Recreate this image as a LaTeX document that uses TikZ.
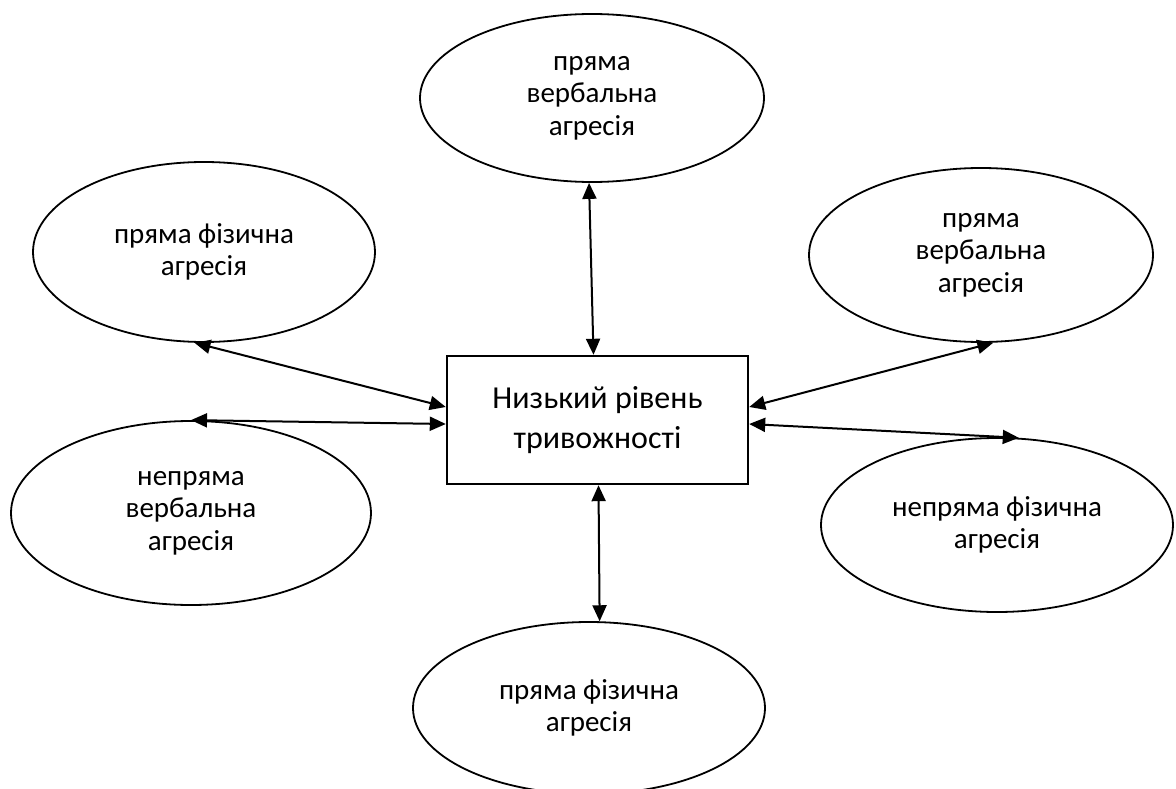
\documentclass[tikz,border=0pt]{standalone}
\usepackage{fontspec}
\setmainfont{Carlito}
\usetikzlibrary{shapes.geometric,arrows.meta}
\begin{document}
\begin{tikzpicture}[x=1pt,y=-1pt,
		oval/.style={ellipse,draw,line width=1.8pt,inner sep=0pt,align=center,font=\fontsize{29}{32.5}\selectfont},
		box/.style={rectangle,draw,line width=2.4pt,minimum width=301pt,minimum height=128pt,align=center,font=\fontsize{32}{40}\selectfont},
		link/.style={<->,>={Triangle[length=16pt,width=14pt]},line width=2pt}]
		\useasboundingbox (0,0) rectangle (1176,789);
		\node[box] (level) at (597.5,420) {Низький рівень\\тривожності};
		\node[oval,minimum width=344pt,minimum height=168pt] (pvTop) at (592,98) {пряма\\вербальна\\агресія};
		\node[oval,minimum width=342pt,minimum height=180pt] (pfLeft) at (204,252) {пряма фізична\\агресія};
		\node[oval,minimum width=344pt,minimum height=174pt] (pvRight) at (981,255) {пряма\\вербальна\\агресія};
		\node[oval,minimum width=360pt,minimum height=184pt] (nvLeft) at (191,513) {непряма\\вербальна\\агресія};
		\node[oval,minimum width=352pt,minimum height=174pt] (nfRight) at (997,525) {непряма фізична\\агресія};
		\node[oval,minimum width=352pt,minimum height=172pt] (pfBottom) at (589,708) {пряма фізична\\агресія};
		\draw[link] (pvTop.-92) -- ([xshift=-4pt]level.north);
		\draw[link] (pfBottom.83) -- ([xshift=1pt]level.south);
		\draw[link] (pfLeft.-96) -- ([yshift=13pt]level.west);
		\draw[link] (nvLeft.90) -- ([yshift=-4pt]level.west);
		\draw[link] (pvRight.-82) -- ([yshift=13pt]level.east);
		\draw[link] (nfRight.76) -- ([yshift=-4pt]level.east);
	\end{tikzpicture}
\end{document}
